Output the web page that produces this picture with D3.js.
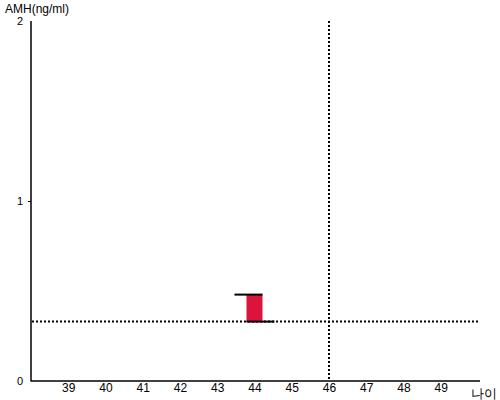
<!DOCTYPE html>
<html>
<head>
<meta charset="utf-8">
<script src="https://cdn.jsdelivr.net/npm/d3@7"></script>
<style>
  body { margin: 0; background: #fff; }
  text { font-family: "Liberation Sans", Arial, sans-serif; }
</style>
</head>
<body>
<div id="chart"></div>
<script>
let ages = [39, 40, 41, 42, 43, 44, 45, 46, 47, 48, 49]
let yTicks = [0, 1, 2]
let barAge = [44]
let barLow = [0.33]
let barHigh = [0.48]
let refAMH = 0.33
let refAge = 46

let width = 500
let height = 400

let svg = d3.select('#chart').append('svg')
    .attr('width', width)
    .attr('height', height)

let x = d3.scaleLinear()
    .domain([38, 50])
    .range([31, 478])
let y = d3.scaleLinear()
    .domain([0, 2])
    .range([381, 21])

// axes
let yAxis = svg.append('g')
    .attr('transform', 'translate(31,0)')
    .call(d3.axisLeft(y).tickValues(yTicks).tickSize(3).tickFormat(d3.format('d')))
yAxis.select('.domain').remove()
yAxis.selectAll('.tick line').filter(d => d != 1).remove()
yAxis.selectAll('.tick text').attr('font-size', 11).attr('x', -8)
svg.append('line')
    .attr('x1', 31).attr('x2', 31)
    .attr('y1', y(2)).attr('y2', y(0) + 0.5)
    .attr('stroke', 'black').attr('stroke-width', 1.5)

let xAxis = svg.append('g')
    .attr('transform', 'translate(0,' + y(0) + ')')
    .call(d3.axisBottom(x).tickValues(ages).tickSize(0).tickFormat(d3.format('d')))
xAxis.select('.domain').remove()
xAxis.selectAll('.tick text').attr('font-size', 12).attr('dy', '0.71em').attr('y', 2)
svg.append('line')
    .attr('x1', 31).attr('x2', 480)
    .attr('y1', y(0)).attr('y2', y(0))
    .attr('stroke', 'black').attr('stroke-width', 1.5)

// axis titles
svg.append('text')
    .attr('x', 5).attr('y', 13)
    .attr('font-size', 12)
    .text('AMH(ng/ml)')
svg.append('text')
    .attr('x', 471).attr('y', 398)
    .attr('font-size', 13)
    .text('나이')

// reference lines
svg.append('line')
    .attr('x1', 32).attr('x2', 480)
    .attr('y1', y(refAMH)).attr('y2', y(refAMH))
    .attr('stroke', 'black').attr('stroke-width', 2)
    .attr('stroke-dasharray', '2,2')
svg.append('line')
    .attr('x1', x(refAge)).attr('x2', x(refAge))
    .attr('y1', 21).attr('y2', y(0))
    .attr('stroke', 'black').attr('stroke-width', 2)
    .attr('stroke-dasharray', '2,2')

// bar
let half = 8
let ext = 12
barAge.forEach((a, i) => {
    let cx = x(a)
    svg.append('rect')
        .attr('x', cx - half)
        .attr('y', y(barHigh[i]))
        .attr('width', half * 2)
        .attr('height', y(barLow[i]) - y(barHigh[i]))
        .attr('fill', '#dc143c')
    svg.append('line')
        .attr('x1', cx - half - ext).attr('x2', cx + half)
        .attr('y1', y(barHigh[i])).attr('y2', y(barHigh[i]))
        .attr('stroke', 'black').attr('stroke-width', 2)
    svg.append('line')
        .attr('x1', cx - half).attr('x2', cx + half + ext)
        .attr('y1', y(barLow[i])).attr('y2', y(barLow[i]))
        .attr('stroke', 'black').attr('stroke-width', 2)
})
</script>
</body>
</html>
